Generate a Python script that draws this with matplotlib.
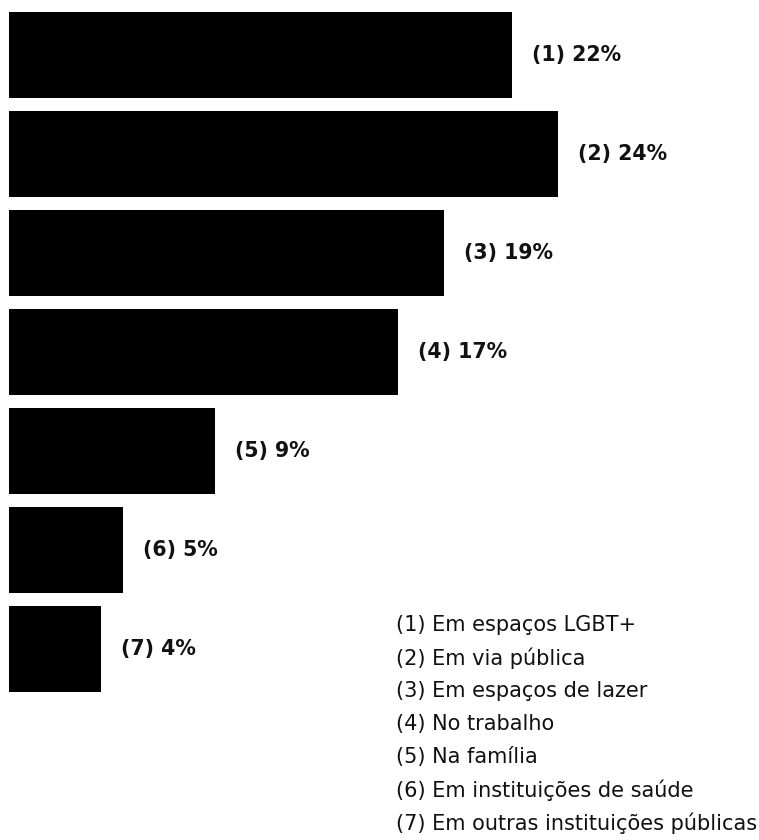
import matplotlib.pyplot as plt

valores = [22, 24, 19, 17, 9, 5, 4]
locais = ["Em espaços LGBT+", "Em via pública", "Em espaços de lazer",
          "No trabalho", "Na família", "Em instituições de saúde",
          "Em outras instituições públicas"]

W, H = 759, 840
fig = plt.figure(figsize=(W / 100, H / 100), dpi=100)
ax = fig.add_axes([0, 0, 1, 1])

# escala: ~22.9 px por ponto percentual, barras começam em x=9px
esc = 22.88
ax.set_xlim(-9 / esc, (W - 9) / esc)
ax.set_ylim((H - 55) / 99, -55 / 99)

pos = list(range(len(valores)))
ax.barh(pos, valores, height=86 / 99, color="black")

for i, v in enumerate(valores):
    ax.text(v + 20 / esc, i, f"({i + 1}) {v}%", va="center", ha="left",
            fontsize=14.8, fontweight="bold", family="DejaVu Sans", color="#111111")

ax.axis("off")

# legenda com os números
for i, nome in enumerate(locais):
    y = 625 + 33 * i
    fig.text(396 / W, 1 - y / H, f"({i + 1}) {nome}", va="center", ha="left",
             fontsize=15, family="DejaVu Sans", color="#111111")

fig.savefig("out.png", dpi=100)
